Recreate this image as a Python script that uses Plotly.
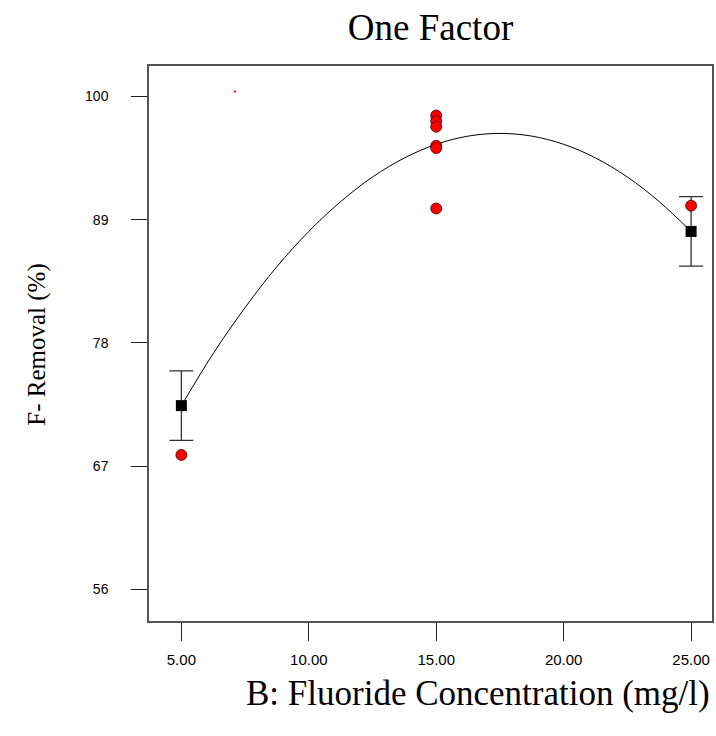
import plotly.graph_objects as go

# ---- data ----
design_x = [5, 15, 15, 15, 15, 15, 15, 25]
design_y = [68.0, 98.3, 97.8, 97.3, 95.6, 95.4, 90.0, 90.25]

mean_x = [5, 25]
mean_y = [72.4, 87.95]
ci_half = [3.1, 3.1]

curve_x = [5, 6.25, 7.5, 8.75, 10, 11.25, 12.5, 13.75, 15, 16.25, 17.5, 18.75, 20, 21.25, 22.5, 23.75, 25]
curve_y = [72.4, 77.05, 81.15, 84.81, 87.95, 90.61, 92.81, 94.51, 95.73, 96.46, 96.70, 96.46, 95.73, 94.51, 92.81, 90.61, 87.95]

stray_x = [7.1]
stray_y = [100.45]

x_ticks = [5, 10, 15, 20, 25]
x_tick_text = ["5.00", "10.00", "15.00", "20.00", "25.00"]
y_ticks = [56, 67, 78, 89, 100]
y_tick_text = ["56", "67", "78", "89", "100"]

serif = "Liberation Serif, Times New Roman, serif"
sans = "Liberation Sans, Arial, sans-serif"

fig = go.Figure()

fig.add_trace(go.Scatter(
    x=curve_x, y=curve_y, mode="lines",
    line=dict(color="black", width=1, shape="spline", smoothing=1.0),
    hoverinfo="skip", showlegend=False))

fig.add_trace(go.Scatter(
    x=mean_x, y=mean_y, mode="markers",
    marker=dict(symbol="square", size=11, color="black"),
    error_y=dict(type="data", array=ci_half, visible=True,
                 color="#333333", thickness=1.3, width=12),
    showlegend=False))

fig.add_trace(go.Scatter(
    x=design_x, y=design_y, mode="markers",
    marker=dict(symbol="circle", size=11, color="#ff0000",
                line=dict(color="#400000", width=0.8)),
    showlegend=False))

fig.add_trace(go.Scatter(
    x=stray_x, y=stray_y, mode="markers",
    marker=dict(symbol="square", size=2, color="#ff0000"),
    showlegend=False))

fig.update_layout(
    width=716, height=736,
    margin=dict(l=149, r=2, t=66, b=115),
    plot_bgcolor="white", paper_bgcolor="white",
    title=dict(text="One Factor", x=0.5, xref="paper", xanchor="center",
               y=0.963, yanchor="middle",
               font=dict(family=serif, size=37, color="black")),
    xaxis=dict(range=[3.73, 25.82], tickvals=x_ticks, ticktext=x_tick_text,
               ticks="outside", ticklen=18, tickcolor="#222", tickwidth=1,
               showline=True, mirror=True, linecolor="#555", linewidth=1.5,
               showgrid=False, zeroline=False,
               tickfont=dict(family=sans, size=15, color="black"),
               ticklabelstandoff=6),
    yaxis=dict(range=[53.17, 102.72], tickvals=y_ticks, ticktext=y_tick_text,
               ticks="outside", ticklen=16, tickcolor="#222", tickwidth=1,
               showline=True, mirror=True, linecolor="#555", linewidth=1.5,
               showgrid=False, zeroline=False,
               tickfont=dict(family=sans, size=14, color="black"),
               ticklabelstandoff=20),
    annotations=[
        dict(text="B: Fluoride Concentration (mg/l)", xref="paper", yref="paper",
             x=0.168, y=-0.130, xanchor="left", yanchor="middle", showarrow=False,
             font=dict(family=serif, size=35, color="black")),
        dict(text="F- Removal (%)", xref="paper", yref="paper",
             x=-0.198, y=0.497, xanchor="center", yanchor="middle", showarrow=False,
             textangle=-90,
             font=dict(family=serif, size=25, color="black")),
    ],
)

fig.write_html("out.html", config={"displayModeBar": False},
               post_script="document.body.style.margin='0';document.body.style.overflow='hidden';")
